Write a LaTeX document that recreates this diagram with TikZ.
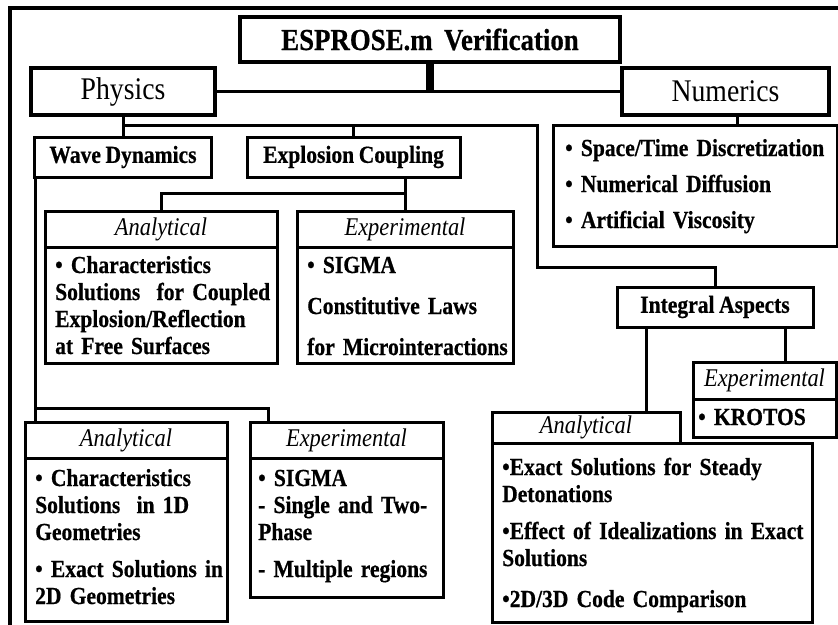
\documentclass[tikz,border=0pt]{standalone}
\usepackage{fontspec}
\setmainfont[FakeStretch=0.88, WordSpace=0.85, BoldFeatures={FakeBold=0.6}]{Liberation Serif}
\begin{document}
\begin{tikzpicture}[x=1pt,y=-1pt,
  box/.style={draw, line width=3pt, inner sep=0pt, outer sep=0pt, rectangle},
  bigbox/.style={box, line width=4pt},
  conn/.style={line width=3pt},
  trunk/.style={line width=8pt},
  bodyfont/.style={font=\fontsize{24.5}{27}\selectfont\bfseries},
  txt/.style={bodyfont, inner sep=0pt, anchor=base west, align=left, text width=330pt},
  hd/.style={font=\fontsize{25.5}{27}\selectfont\itshape},
  topfont/.style={font=\fontsize{31.5}{32}\selectfont}]
\useasboundingbox (0,0) rectangle (838,624);

% outer frame
\draw[line width=4pt] (10,640) -- (10,8) -- (850,8);

% top level
\node[bigbox, minimum width=380pt, minimum height=45pt, font=\fontsize{30.5}{32}\selectfont\bfseries] (title) at (430,39.5) {ESPROSE.m\ \ Verification};
\node[bigbox, topfont, minimum width=184pt, minimum height=47pt] (physics) at (123,91.5) {Physics};
\node[bigbox, topfont, minimum width=207pt, minimum height=47pt] (numerics) at (725.5,91.5) {Numerics};

% numerics list
\node[box, minimum width=284pt, minimum height=121pt] (numlist) at (695,185.5) {};
\node[txt] (numtxt) at ([shift={(12,31)}]numlist.north west) {• Space/Time Discretization\\[9pt] • Numerical Diffusion\\[9pt] • Artificial Viscosity};

% physics children
\node[box, bodyfont, minimum width=177pt, minimum height=40pt] (wd) at (123,157) {Wave Dynamics};
\node[box, bodyfont, minimum width=213pt, minimum height=40pt] (ec) at (353.5,157) {Explosion Coupling};

% explosion coupling children
\node[box, hd, minimum width=232pt, minimum height=36pt] (cahd) at (161,229) {Analytical};
\node[box, minimum width=232pt, minimum height=116pt] (cabody) at (161,305) {};
\node[txt] (catxt) at ([shift={(10,26)}]cabody.north west) {• Characteristics\\ Solutions\ \ for Coupled\\ Explosion/Reflection\\ at Free Surfaces};

\node[box, hd, minimum width=216pt, minimum height=36pt] (cehd) at (405,229) {Experimental};
\node[box, minimum width=216pt, minimum height=116pt] (cebody) at (405,305) {};
\node[txt] (cetxt) at ([shift={(10,26)}]cebody.north west) {• SIGMA\\[14pt] Constitutive Laws\\[14pt] for Microinteractions};

% integral aspects
\node[box, bodyfont, minimum width=196pt, minimum height=40pt] (integral) at (715,307) {Integral Aspects};

\node[box, hd, minimum width=143pt, minimum height=37pt] (kehd) at (764.5,380.5) {Experimental};
\node[box, minimum width=143pt, minimum height=38pt] (kebody) at (764.5,418) {};
\node[txt] (ketxt) at ([shift={(5,26)}]kebody.north west) {• KROTOS};

\node[box, hd, minimum width=188pt, minimum height=31pt] (iahd) at (586,427.5) {Analytical};
\node[box, minimum width=320pt, minimum height=179pt] (iabody) at (652,532.5) {};
\node[txt] (iatxt) at ([shift={(10,32)}]iabody.north west) {•Exact Solutions for Steady\\ Detonations\\[10pt] •Effect of Idealizations in Exact\\ Solutions\\[14pt] •2D/3D Code Comparison};

% wave dynamics children
\node[box, hd, minimum width=202pt, minimum height=36pt] (wahd) at (126,440) {Analytical};
\node[box, minimum width=202pt, minimum height=163pt] (wabody) at (126,539.5) {};
\node[txt] (watxt) at ([shift={(10,28)}]wabody.north west) {• Characteristics\\ Solutions\ \ in 1D\\ Geometries\\[10pt] • Exact Solutions in\\ 2D Geometries};

\node[box, hd, minimum width=193pt, minimum height=36pt] (wehd) at (346.5,440) {Experimental};
\node[box, minimum width=193pt, minimum height=139pt] (webody) at (346.5,527.5) {};
\node[txt] (wetxt) at ([shift={(8,28)}]webody.north west) {• SIGMA\\ - Single and Two-\\ Phase\\[10pt] - Multiple regions};

% bus coordinates
\coordinate (busP) at (537,125);
\coordinate (busQ) at (537,267);
\coordinate (busE) at (0,193);
\coordinate (busW) at (0,408);
\coordinate (numC) at ([xshift=12pt]numerics.south);
\coordinate (wdL) at ([xshift=1pt]wd.south west);
\coordinate (intL) at ([xshift=29pt]integral.south west);
\coordinate (intR) at ([xshift=-28pt]integral.south east);
\coordinate (weC) at ([xshift=18pt]wehd.north west);

% connectors
\draw[trunk] (title.south) -- (title.south |- physics.east);
\draw[conn] (physics.east) -- (numerics.west);
\draw[conn] (numC) -- (numC |- numlist.north);
\draw[conn] (physics.south) -- (physics.south |- wd.north);
\draw[conn] (physics.south |- busP) -- (busP) -- (busQ) -| (integral.north);
\draw[conn] (ec.north) -- (ec.north |- busP);
\draw[conn] (cehd.north |- ec.south) -- (cehd.north);
\draw[conn] (cehd.north |- busE) -| (cahd.north);
\draw[conn] (wdL) -- (wdL |- wahd.north);
\draw[conn] (wdL |- busW) -| (weC);
\draw[conn] (intL) -- (intL |- iahd.north);
\draw[conn] (intR) -- (intR |- kehd.north);
\end{tikzpicture}
\end{document}
